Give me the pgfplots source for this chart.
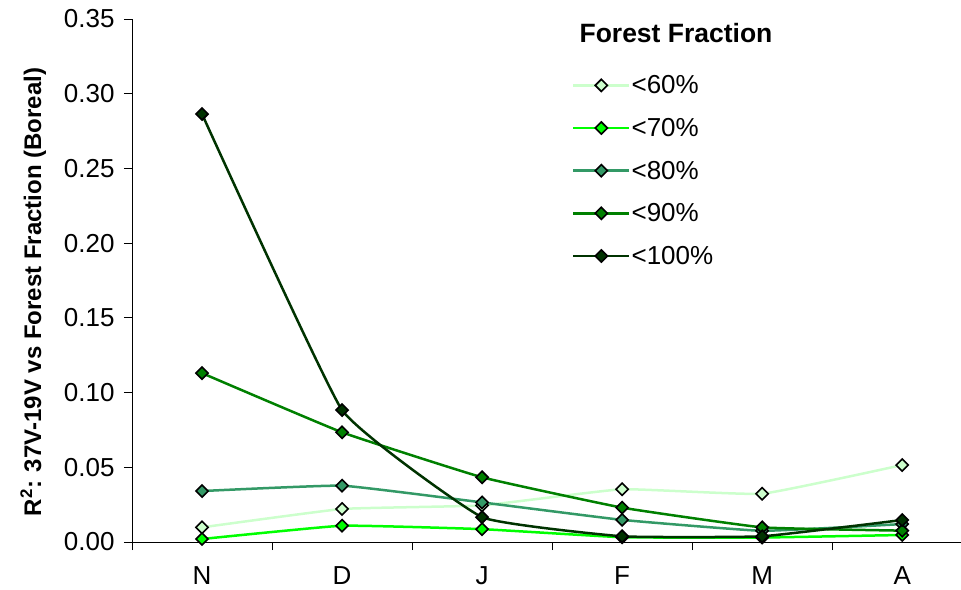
\documentclass[border=0pt]{standalone}
\usepackage{pgfplots}
\pgfplotsset{compat=1.18}
\usepackage{fontspec}
\setmainfont{Liberation Sans}

\definecolor{ff60}{HTML}{CCFFCC}
\definecolor{ff70}{HTML}{00FF00}
\definecolor{ff80}{HTML}{339966}
\definecolor{ff90}{HTML}{008000}
\definecolor{ff100}{HTML}{003300}

\begin{document}
\begin{tikzpicture}
\useasboundingbox (-132pt,-47pt) rectangle (829pt,542pt);
\begin{axis}[
  scale only axis,
  width=829pt, height=523pt,
  at={(0,0)}, anchor=south west,
  xmin=-0.5, xmax=5.42,
  ymin=0, ymax=0.35,
  axis x line=bottom, axis y line=left,
  axis line style={-, black, line width=0.8pt},
  xtick={0,1,2,3,4,5},
  xticklabels={N,D,J,F,M,A},
  major x tick style={draw=none},
  minor xtick={-0.5,0.5,1.5,2.5,3.5,4.5},
  minor x tick style={black, line width=0.8pt},
  minor tick length=8pt,
  ytick={0,0.05,...,0.36},
  major tick length=8pt,
  tick align=outside,
  y tick style={black, line width=0.8pt},
  yticklabel style={xshift=-6pt, /pgf/number format/.cd, fixed, fixed zerofill, precision=2},
  /pgf/number format/assume math mode=true,
  ticklabel style={font=\fontsize{26}{30}\selectfont},
  xticklabel style={inner sep=0pt, text depth=0pt, anchor=base, yshift=-34pt},
  ylabel={\textbf{R\textsuperscript{2}: 37V-19V vs Forest Fraction (Boreal)}},
  ylabel style={font=\fontsize{24}{28}\selectfont,
    at={(axis description cs:-0.119,0.478)}, anchor=center},
  every axis plot/.append style={line width=2.5pt, smooth, tension=0.2},
  legend style={at={(0.527,0.898)}, anchor=north west, draw=none, fill=none,
    font=\fontsize{26}{30}\selectfont, row sep=21pt,
    nodes={inner sep=1pt}},
  legend cell align=left,
  legend image code/.code={%
    \draw[mark repeat=2, mark phase=2] plot coordinates {(0pt,0pt) (28pt,0pt) (56pt,0pt)};},
  clip=false,
]
% <60%
\addplot[color=ff60, mark=square*, mark size=4.3pt,
  mark options={solid, rotate=45, draw=black, line width=1.6pt, fill=ff60}] coordinates
  {(0,0.0098) (1,0.0221) (2,0.0245) (3,0.0353) (4,0.0323) (5,0.0515)};
\addlegendentry{<60\%}
% <70%
\addplot[color=ff70, mark=square*, mark size=4.3pt,
  mark options={solid, rotate=45, draw=black, line width=1.6pt, fill=ff70}] coordinates
  {(0,0.0020) (1,0.0109) (2,0.0086) (3,0.0032) (4,0.0030) (5,0.0047)};
\addlegendentry{<70\%}
% <80%
\addplot[color=ff80, mark=square*, mark size=4.3pt,
  mark options={solid, rotate=45, draw=black, line width=1.6pt, fill=ff80}] coordinates
  {(0,0.0341) (1,0.0377) (2,0.0265) (3,0.0148) (4,0.0075) (5,0.0120)};
\addlegendentry{<80\%}
% <90%
\addplot[color=ff90, mark=square*, mark size=4.3pt,
  mark options={solid, rotate=45, draw=black, line width=1.6pt, fill=ff90}] coordinates
  {(0,0.1130) (1,0.0734) (2,0.0433) (3,0.0230) (4,0.0098) (5,0.0076)};
\addlegendentry{<90\%}
% <100%
\addplot[color=ff100, mark=square*, mark size=4.3pt,
  mark options={solid, rotate=45, draw=black, line width=1.6pt, fill=ff100}] coordinates
  {(0,0.2864) (1,0.0883) (2,0.0166) (3,0.0038) (4,0.0038) (5,0.0147)};
\addlegendentry{<100\%}
\end{axis}
\node[font=\bfseries\fontsize{26.5}{30}\selectfont] at (544pt,509pt) {Forest Fraction};
\end{tikzpicture}
\end{document}
